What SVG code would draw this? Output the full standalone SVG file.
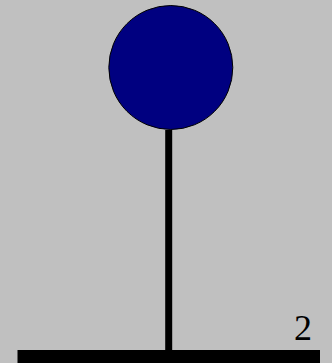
<svg xmlns="http://www.w3.org/2000/svg" width="332" height="363" viewBox="0 0 332 363">
<style>
.lbl{font-family:"Liberation Serif","Times New Roman",serif;font-size:36px;fill:#000}
</style>
<rect width="332" height="363" fill="#c0c0c0"/>
<g id="connectors">
<line x1="168.7" y1="130" x2="168.7" y2="352" stroke="#000" stroke-width="7"/>
</g>
<g id="base">
<rect x="17.5" y="350" width="302.5" height="13" fill="#000"/>
</g>
<g id="ball">
<circle cx="170.8" cy="67.5" r="62" fill="#000080" stroke="#000" stroke-width="1"/>
</g>
<g id="label">
<text class="lbl" x="294" y="340">2</text>
</g>
</svg>
